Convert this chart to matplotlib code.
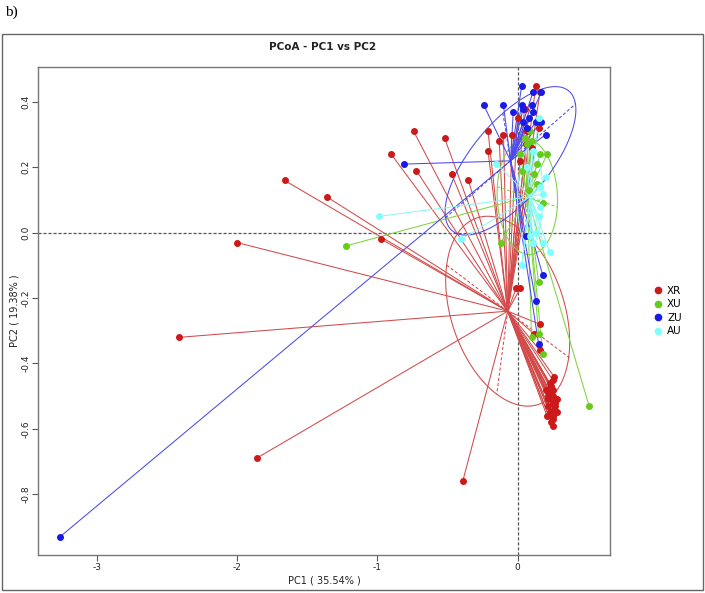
import numpy as np
import matplotlib.pyplot as plt
from matplotlib.patches import Rectangle
from matplotlib.lines import Line2D

groups = ["XR", "XU", "ZU", "AU"]
colors = {"XR": "#CC1919", "XU": "#66CC1A", "ZU": "#1A1AE6", "AU": "#80FFFF"}
line_colors = {"XR": "#D24A4A", "XU": "#7FD43F", "ZU": "#4A4AEE", "AU": "#8FF5F5"}

xr_x = [-1.66, -1.36, -2.00, -2.41, -1.86, -0.39, -0.97, -0.90, -0.74, -0.72, -0.52, -0.47, -0.35, -0.21, -0.21,
        -0.10, -0.04, -0.13, 0.07, 0.15, 0.02, 0.10, 0.05, 0.13, 0.16, 0.00, 0.06,
        -0.01, 0.02, 0.16, 0.12, 0.16,
        0.25, 0.23, 0.25, 0.23, 0.25, 0.28, 0.25, 0.22, 0.27, 0.28, 0.23, 0.25, 0.25, 0.25, 0.21, 0.22, 0.20,
        0.26, 0.24, 0.27, 0.22, 0.26, 0.24]
xr_y = [0.16, 0.11, -0.03, -0.32, -0.69, -0.76, -0.02, 0.24, 0.31, 0.19, 0.29, 0.18, 0.16, 0.31, 0.25,
        0.30, 0.30, 0.28, 0.31, 0.32, 0.22, 0.26, 0.38, 0.45, 0.43, 0.35, 0.27,
        -0.17, -0.17, -0.28, -0.31, -0.36,
        -0.45, -0.46, -0.48, -0.49, -0.50, -0.51, -0.52, -0.53, -0.53, -0.55, -0.55, -0.56, -0.57, -0.59, -0.56, -0.50, -0.48,
        -0.44, -0.47, -0.52, -0.51, -0.54, -0.58]

xu_x = [-1.22, 0.51, 0.07, 0.10, 0.16, 0.21, 0.14, 0.05, 0.09, 0.14, 0.18, -0.12, 0.15, 0.10, 0.15, 0.18, 0.03, 0.08, 0.12, 0.02]
xu_y = [-0.04, -0.53, 0.27, 0.28, 0.24, 0.24, 0.21, 0.29, 0.31, 0.15, 0.09, -0.03, -0.15, -0.32, -0.31, -0.37, 0.19, 0.13, 0.18, 0.24]

zu_x = [-3.26, -0.81, -0.24, -0.10, 0.03, 0.11, 0.17, 0.03, 0.04, 0.10, 0.11, -0.03, 0.08, 0.04, 0.13, 0.17, 0.07, 0.20,
        0.06, 0.18, 0.13, 0.15]
zu_y = [-0.93, 0.21, 0.39, 0.39, 0.45, 0.43, 0.43, 0.39, 0.38, 0.39, 0.37, 0.37, 0.35, 0.34, 0.34, 0.34, 0.32, 0.30,
        -0.01, -0.13, -0.21, -0.34]

au_x = [-0.99, -0.40, 0.15, 0.23, 0.03, 0.18, 0.16, 0.18, 0.11, 0.09, 0.16, 0.07, 0.15, 0.11, -0.15, 0.03, 0.13, 0.20]
au_y = [0.05, -0.02, 0.05, -0.06, -0.10, -0.03, 0.08, 0.12, -0.03, -0.01, 0.14, 0.20, 0.35, 0.25, 0.21, -0.10, 0.00, 0.17]

points = {"XR": (xr_x, xr_y), "XU": (xu_x, xu_y), "ZU": (zu_x, zu_y), "AU": (au_x, au_y)}

# group centres and ellipse semi-axes (conjugate vectors, data units)
centres = {"XR": (-0.07, -0.24), "XU": (0.07, 0.11), "ZU": (-0.05, 0.22), "AU": (0.09, 0.11)}
axis1 = {"XR": (0.435, -0.141), "XU": (0.214, -0.031), "ZU": (0.463, 0.174), "AU": (0.09, -0.01)}
axis2 = {"XR": (-0.078, -0.254), "XU": (0.025, 0.174), "ZU": (-0.054, 0.146), "AU": (0.01, 0.15)}

fig = plt.figure(figsize=(7.05, 5.93), dpi=100)
ax = fig.add_axes([0.0546, 0.0641, 0.8106, 0.8234])

ax.axhline(0, color="#555555", lw=0.9, ls=(0, (2.5, 1.5)), zorder=1)
ax.axvline(0, color="#555555", lw=0.9, ls=(0, (2.5, 1.5)), zorder=1)

t = np.linspace(0, 2 * np.pi, 300)
for g in groups:
    cx, cy = centres[g]
    xs, ys = points[g]
    lc = line_colors[g]
    for px, py in zip(xs, ys):
        ax.plot([cx, px], [cy, py], color=lc, lw=0.75, zorder=2)
    a1 = np.array(axis1[g])
    a2 = np.array(axis2[g])
    ex = cx + np.cos(t) * a1[0] + np.sin(t) * a2[0]
    ey = cy + np.cos(t) * a1[1] + np.sin(t) * a2[1]
    ax.plot(ex, ey, color=lc, lw=0.75, zorder=2)
    for a in (a1, a2):
        ax.plot([cx - a[0], cx + a[0]], [cy - a[1], cy + a[1]], color=lc, lw=0.75,
                ls=(0, (3, 2)), zorder=2)

for g in groups:
    xs, ys = points[g]
    ax.plot(xs, ys, "o", color=colors[g], ms=4, mec=colors[g], zorder=3)

ax.set_xlim(-3.414, 0.659)
ax.set_ylim(-0.986, 0.508)
ax.set_xticks([-3, -2, -1, 0])
ax.set_xticklabels(["-3", "-2", "-1", "0"])
ax.set_yticks([-0.8, -0.6, -0.4, -0.2, 0.0, 0.2, 0.4])
ax.set_yticklabels(["-0.8", "-0.6", "-0.4", "-0.2", "0.0", "0.2", "0.4"], rotation=90, va="center")
ax.tick_params(direction="out", length=4, width=0.8, color="#555555", labelsize=6.5,
               labelcolor="#222222", pad=2)
for s in ax.spines.values():
    s.set_color("#777777")
    s.set_linewidth(1.0)

ax.set_xlabel("PC1 ( 35.54% )", fontsize=7, color="#222222", labelpad=2)
ax.set_ylabel("PC2 ( 19.38% )", fontsize=7, color="#222222", labelpad=1)
fig.text(323 / 705, 1 - 47 / 593, "PCoA - PC1 vs PC2", ha="center", va="center",
         fontsize=7.5, fontweight="bold", color="#222222")

handles = [Line2D([], [], marker="o", ls="", color=colors[g], ms=4.5) for g in groups]
fig.legend(handles, groups, loc="center left", bbox_to_anchor=(642 / 705, 1 - 311 / 593),
           frameon=False, fontsize=7.5, handletextpad=0.3, labelspacing=0.35, handlelength=1.2)

fig.patches.append(Rectangle((2 / 705, 3 / 593), 701 / 705, 556 / 593, transform=fig.transFigure,
                             fill=False, edgecolor="#666666", lw=1.0))
fig.text(5 / 705, 1 - 12 / 593, "b)", ha="left", va="center", fontsize=11,
         family="Liberation Serif")

fig.savefig("out.png", dpi=100)
